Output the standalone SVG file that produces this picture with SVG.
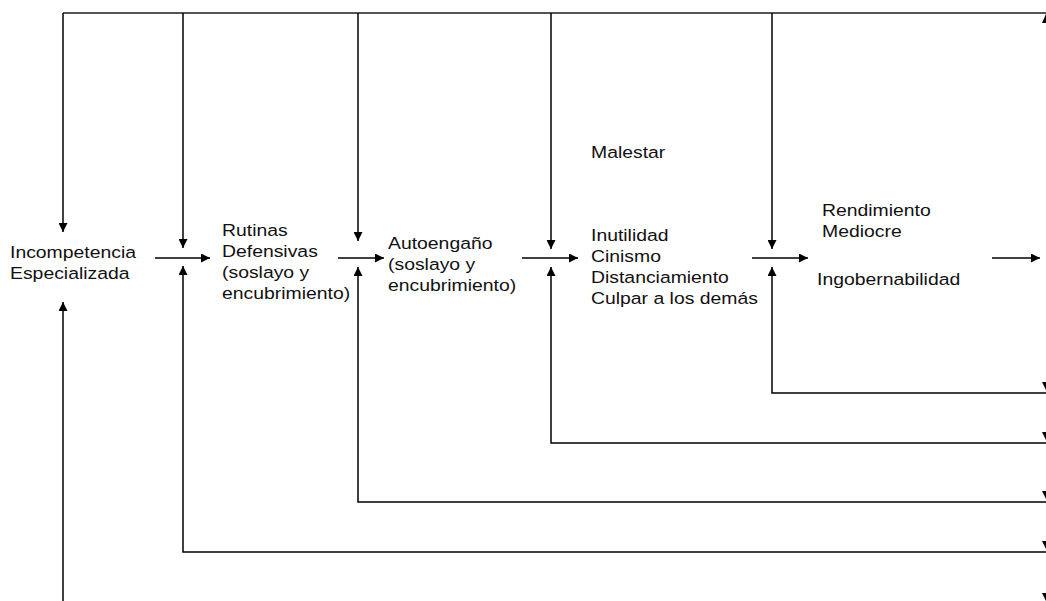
<svg xmlns="http://www.w3.org/2000/svg" width="1046" height="601" viewBox="0 0 1046 601">
  <style>
    .ln { stroke: #000; stroke-width: 1.5; fill: none; }
    .top { stroke: #555; stroke-width: 2; fill: none; }
    .lbl { font-family: "Liberation Sans", Arial, sans-serif; font-size: 17px; fill: #111; }
    .tip { fill: #000; }
  </style>
  <defs>
    <marker id="ah" viewBox="0 0 10 10" refX="10" refY="5" markerWidth="10" markerHeight="9" markerUnits="userSpaceOnUse" orient="auto">
      <path d="M0,0 L10,5 L0,10 z" fill="#000"/>
    </marker>
  </defs>

  <g id="connectors">
    <!-- shared feedback bus along the top -->
    <line class="top" x1="63" y1="13" x2="1046" y2="13"/>
    <!-- drops from the top bus -->
    <line class="ln" x1="63" y1="13" x2="63" y2="232" marker-end="url(#ah)"/>
    <line class="ln" x1="183" y1="13" x2="183" y2="248" marker-end="url(#ah)"/>
    <line class="ln" x1="358" y1="13" x2="358" y2="241" marker-end="url(#ah)"/>
    <line class="ln" x1="551" y1="13" x2="551" y2="249" marker-end="url(#ah)"/>
    <line class="ln" x1="772" y1="13" x2="772" y2="249" marker-end="url(#ah)"/>
    <!-- forward chain -->
    <line class="ln" x1="155" y1="258" x2="210" y2="258" marker-end="url(#ah)"/>
    <line class="ln" x1="338" y1="258" x2="384" y2="258" marker-end="url(#ah)"/>
    <line class="ln" x1="522" y1="258" x2="578" y2="258" marker-end="url(#ah)"/>
    <line class="ln" x1="752" y1="258" x2="808" y2="258" marker-end="url(#ah)"/>
    <line class="ln" x1="992" y1="258" x2="1040" y2="258" marker-end="url(#ah)"/>
    <!-- returns from the right -->
    <polyline class="ln" points="1046,393 772,393 772,267" marker-end="url(#ah)"/>
    <polyline class="ln" points="1046,443 551,443 551,267" marker-end="url(#ah)"/>
    <polyline class="ln" points="1046,502 358,502 358,267" marker-end="url(#ah)"/>
    <polyline class="ln" points="1046,552 183,552 183,266" marker-end="url(#ah)"/>
    <line class="ln" x1="63" y1="601" x2="63" y2="302" marker-end="url(#ah)"/>
    <!-- arrow tips at the right margin -->
    <polygon class="tip" points="1042,23 1050,23 1046,14"/>
    <polygon class="tip" points="1042,382 1050,382 1046,390"/>
    <polygon class="tip" points="1042,432 1050,432 1046,440"/>
    <polygon class="tip" points="1042,491 1050,491 1046,499"/>
    <polygon class="tip" points="1042,541 1050,541 1046,549"/>
    <polygon class="tip" points="1042,593 1050,593 1046,601"/>
  </g>

  <g id="incompetencia">
    <text class="lbl" transform="translate(10,258) scale(1.14,1)">
      <tspan x="0" y="0">Incompetencia</tspan>
      <tspan x="0" dy="21">Especializada</tspan>
    </text>
  </g>

  <g id="rutinas">
    <text class="lbl" transform="translate(222,236) scale(1.14,1)">
      <tspan x="0" y="0">Rutinas</tspan>
      <tspan x="0" dy="21">Defensivas</tspan>
      <tspan x="0" dy="21">(soslayo y</tspan>
      <tspan x="0" dy="21">encubrimiento)</tspan>
    </text>
  </g>

  <g id="autoengano">
    <text class="lbl" transform="translate(388,249) scale(1.14,1)">
      <tspan x="0" y="0">Autoengaño</tspan>
      <tspan x="0" dy="21">(soslayo y</tspan>
      <tspan x="0" dy="21">encubrimiento)</tspan>
    </text>
  </g>

  <g id="malestar">
    <text class="lbl" transform="translate(591,158) scale(1.14,1)">Malestar</text>
  </g>

  <g id="sintomas">
    <text class="lbl" transform="translate(591,241) scale(1.14,1)">
      <tspan x="0" y="0">Inutilidad</tspan>
      <tspan x="0" dy="21">Cinismo</tspan>
      <tspan x="0" dy="21">Distanciamiento</tspan>
      <tspan x="0" dy="21">Culpar a los demás</tspan>
    </text>
  </g>

  <g id="rendimiento">
    <text class="lbl" transform="translate(822,216) scale(1.14,1)">
      <tspan x="0" y="0">Rendimiento</tspan>
      <tspan x="0" dy="21">Mediocre</tspan>
    </text>
  </g>

  <g id="ingobernabilidad">
    <text class="lbl" transform="translate(817,285) scale(1.14,1)">Ingobernabilidad</text>
  </g>
</svg>
